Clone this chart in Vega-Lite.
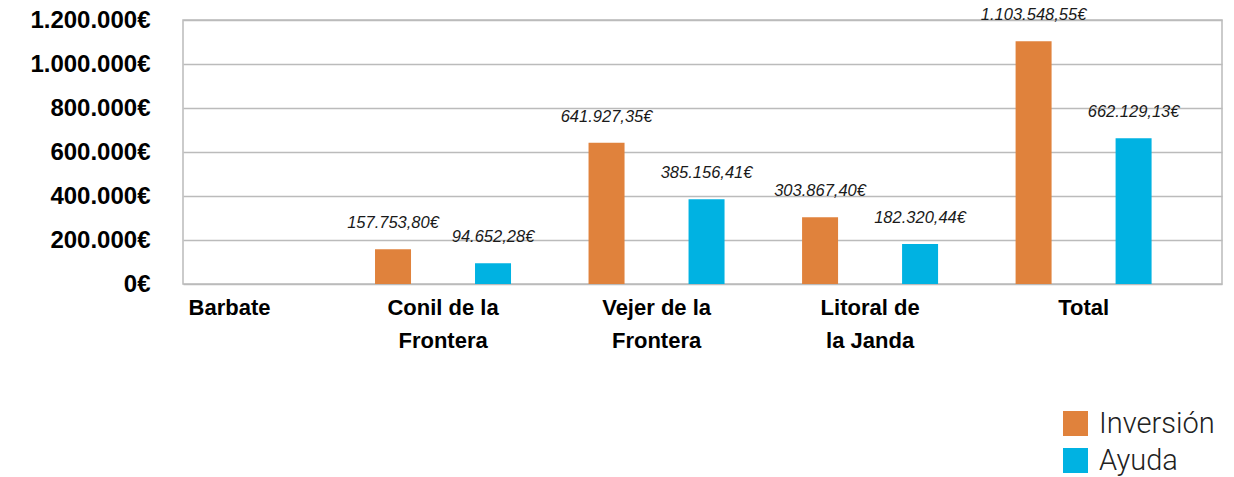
{
  "$schema": "https://vega.github.io/schema/vega-lite/v6.json",
  "width": 1039,
  "height": 264,
  "autosize": {"type": "none"},
  "padding": {"left": 183, "top": 20, "right": 12, "bottom": 193},
  "background": "white",
  "config": {
    "locale": {"number": {"decimal": ",", "thousands": ".", "grouping": [3], "currency": ["", "€"]}},
    "view": {"stroke": "#bbbbbb", "strokeWidth": 1.5}
  },
  "data": {
    "values": [
      {"zona": "Conil de la Frontera", "serie": "Inversión", "valor": 157753.80},
      {"zona": "Conil de la Frontera", "serie": "Ayuda", "valor": 94652.28},
      {"zona": "Vejer de la Frontera", "serie": "Inversión", "valor": 641927.35},
      {"zona": "Vejer de la Frontera", "serie": "Ayuda", "valor": 385156.41},
      {"zona": "Litoral de la Janda", "serie": "Inversión", "valor": 303867.40},
      {"zona": "Litoral de la Janda", "serie": "Ayuda", "valor": 182320.44},
      {"zona": "Total", "serie": "Inversión", "valor": 1103548.55},
      {"zona": "Total", "serie": "Ayuda", "valor": 662129.13}
    ]
  },
  "encoding": {
    "x": {
      "field": "zona",
      "type": "nominal",
      "sort": null,
      "scale": {
        "domain": ["Barbate", "Conil de la Frontera", "Vejer de la Frontera", "Litoral de la Janda", "Total"],
        "paddingInner": 0.564,
        "paddingOuter": 0.215,
        "align": 0
      },
      "axis": {
        "title": null,
        "labelAngle": 0,
        "domain": false,
        "ticks": false,
        "grid": false,
        "labelPadding": 13,
        "labelFont": "Liberation Sans",
        "labelFontWeight": "bold",
        "labelFontSize": 22,
        "labelColor": "#000000",
        "labelLineHeight": 33,
        "labelExpr": "datum.label == 'Conil de la Frontera' ? ['Conil de la', 'Frontera'] : datum.label == 'Vejer de la Frontera' ? ['Vejer de la', 'Frontera'] : datum.label == 'Litoral de la Janda' ? ['Litoral  de', 'la   Janda'] : datum.label"
      }
    },
    "xOffset": {
      "field": "serie",
      "type": "nominal",
      "sort": ["Inversión", "Ayuda"],
      "scale": {"range": [-21.5, 114.5], "paddingInner": 0.64, "paddingOuter": 0}
    },
    "y": {
      "field": "valor",
      "type": "quantitative",
      "scale": {"domain": [0, 1200000], "nice": false},
      "axis": {
        "title": null,
        "values": [0, 200000, 400000, 600000, 800000, 1000000, 1200000],
        "format": "$,.0f",
        "domain": false,
        "ticks": false,
        "gridColor": "#bbbbbb",
        "gridWidth": 1.5,
        "labelPadding": 33,
        "labelFont": "Liberation Sans",
        "labelFontWeight": "bold",
        "labelFontSize": 24,
        "labelColor": "#000000"
      }
    }
  },
  "layer": [
    {
      "mark": {"type": "bar"},
      "encoding": {
        "color": {
          "field": "serie",
          "type": "nominal",
          "sort": ["Inversión", "Ayuda"],
          "scale": {"domain": ["Inversión", "Ayuda"], "range": ["#E0823C", "#00B2E2"]},
          "legend": {
            "title": null,
            "orient": "none",
            "legendX": 878,
            "legendY": 389,
            "symbolType": "square",
            "symbolSize": 625,
            "symbolStrokeWidth": 0,
            "symbolOpacity": 1,
            "labelFont": "Roboto",
            "labelFontWeight": 300,
            "labelFontSize": 29,
            "labelColor": "#222222",
            "labelOffset": 9,
            "rowPadding": 7
          }
        }
      }
    },
    {
      "mark": {"type": "text", "font": "Liberation Sans", "fontStyle": "italic", "fontSize": 16.5, "color": "#1a1a1a", "baseline": "middle", "dy": -26},
      "encoding": {
        "text": {"field": "valor", "type": "quantitative", "format": "$,.2f"}
      }
    }
  ]
}
